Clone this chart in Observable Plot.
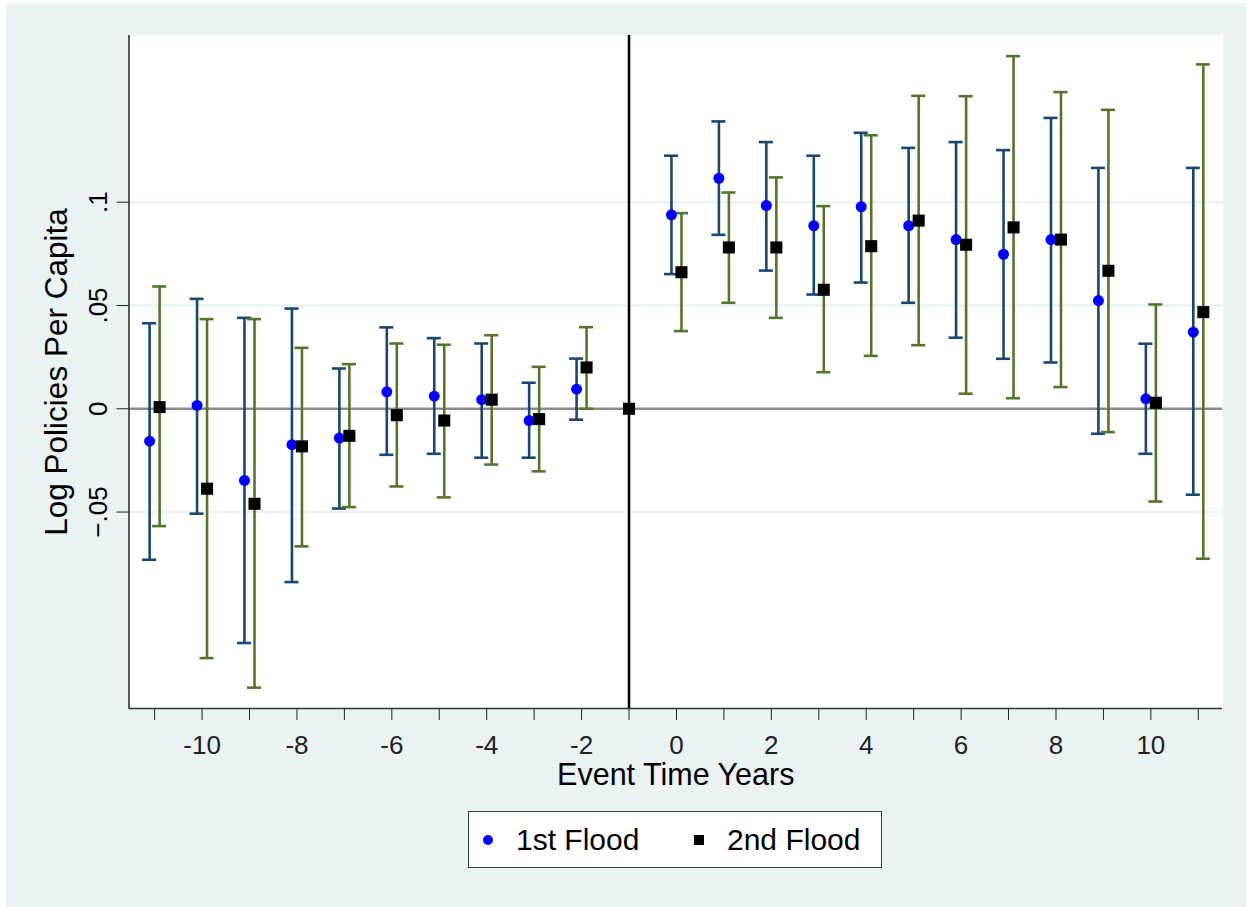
<!DOCTYPE html>
<html>
<head>
<meta charset="utf-8">
<script src="https://cdn.jsdelivr.net/npm/d3@7"></script>
<script src="https://cdn.jsdelivr.net/npm/@observablehq/plot@0.6"></script>
<style>
html, body { margin: 0; padding: 0; background: #ffffff; }
#page { position: relative; width: 1252px; height: 907px; overflow: hidden; font-family: "Liberation Sans", Arial, sans-serif; }
#bg { position: absolute; left: 6px; top: 3px; width: 1240px; height: 904px; background: #eaf2f3; }
#chart { position: absolute; left: 0; top: 0; }
#legend { position: absolute; left: 468px; top: 811px; width: 412px; height: 55px; border: 1px solid #3a3a3a; background: #ffffff; }
#legend .sym { position: absolute; top: 23px; width: 10px; height: 10px; }
#legend .lab { position: absolute; top: 0; line-height: 55px; font-size: 30px; color: #000; white-space: nowrap; }
</style>
</head>
<body>
<div id="page">
  <div id="bg"></div>
  <div id="chart"></div>
  <div id="legend"></div>
</div>
<script>
// ---- data ----
const years = [-11, -10, -9, -8, -7, -6, -5, -4, -3, -2, 0, 1, 2, 3, 4, 5, 6, 7, 8, 9, 10, 11];
const refYear = -1;
const refValue = 0;

const firstEst = [-0.0157, 0.0016, -0.0347, -0.0174, -0.0142, 0.0082, 0.0061, 0.0044, -0.0057, 0.0095,
  0.0939, 0.1116, 0.0984, 0.0886, 0.0978, 0.0886, 0.0819, 0.0748, 0.0819, 0.0524, 0.0048, 0.0371];
const firstHi = [0.0414, 0.0532, 0.0440, 0.0485, 0.0195, 0.0394, 0.0342, 0.0316, 0.0126, 0.0243,
  0.1225, 0.1391, 0.1291, 0.1225, 0.1336, 0.1263, 0.1291, 0.1252, 0.1408, 0.1166, 0.0315, 0.1166];
const firstLo = [-0.0731, -0.0508, -0.1134, -0.0839, -0.0483, -0.0223, -0.0218, -0.0237, -0.0237, -0.0053,
  0.0652, 0.0842, 0.0669, 0.0553, 0.0611, 0.0513, 0.0344, 0.0242, 0.0224, -0.0121, -0.0218, -0.0416];

const secondEst = [0.0008, -0.0387, -0.0460, -0.0182, -0.0131, -0.0031, -0.0057, 0.0044, -0.0050, 0.0200,
  0.0661, 0.0781, 0.0781, 0.0576, 0.0787, 0.0911, 0.0794, 0.0878, 0.0819, 0.0668, 0.0029, 0.0468];
const secondHi = [0.0592, 0.0434, 0.0434, 0.0295, 0.0216, 0.0316, 0.0310, 0.0356, 0.0203, 0.0395,
  0.0947, 0.1047, 0.1120, 0.0981, 0.1324, 0.1515, 0.1513, 0.1707, 0.1533, 0.1447, 0.0505, 0.1667];
const secondLo = [-0.0568, -0.1207, -0.1350, -0.0666, -0.0476, -0.0376, -0.0429, -0.0270, -0.0303, 0.0000,
  0.0376, 0.0513, 0.0440, 0.0177, 0.0256, 0.0308, 0.0073, 0.0051, 0.0105, -0.0113, -0.0449, -0.0726];

const seriesNames = ["1st Flood", "2nd Flood"];
const xTicks = d3.range(-11, 12);
const yTicks = [-0.05, 0, 0.05, 0.1];
const yGrid = [-0.05, 0.05, 0.1];
const xTitle = "Event Time Years";
const yTitle = "Log Policies Per Capita";

// ---- styling ----
const blueCI = "#1a476f";
const greenCI = "#55752f";
const blueDot = "#0000ff";
const blackSq = "#000000";
const bgColor = "#eaf2f3";
const capHalf = 0.148;
const xDomain = [-11.54, 11.51];
const yDomain = [-0.1451, 0.1807];

const first = years.map((t, i) => ({t, est: firstEst[i], lo: firstLo[i], hi: firstHi[i]}));
const second = years.map((t, i) => ({t, est: secondEst[i], lo: secondLo[i], hi: secondHi[i]}));
const ref = [{t: refYear, est: refValue}];

const yFmt = d => d === 0 ? "0" : d3.format(".2~f")(d).replace("0.", ".");

const ciMarks = (data, color, dx) => [
  Plot.ruleX(data, {x: "t", y1: "lo", y2: "hi", dx, stroke: color, strokeWidth: 2.6}),
  Plot.ruleY(data, {y: "lo", x1: d => d.t - capHalf, x2: d => d.t + capHalf, dx, stroke: color, strokeWidth: 2.6}),
  Plot.ruleY(data, {y: "hi", x1: d => d.t - capHalf, x2: d => d.t + capHalf, dx, stroke: color, strokeWidth: 2.6})
];

const chart = Plot.plot({
  width: 1252,
  height: 907,
  marginLeft: 128.5,
  marginRight: 30,
  marginTop: 35,
  marginBottom: 199,
  style: {background: "transparent", fontFamily: "'Liberation Sans', Arial, sans-serif", overflow: "visible"},
  x: {domain: xDomain, axis: null},
  y: {domain: yDomain, axis: null},
  marks: [
    Plot.frame({fill: "white", stroke: null}),
    Plot.ruleY(yGrid, {stroke: bgColor, strokeWidth: 2.5}),
    Plot.ruleY([0], {stroke: "#8a8a8a", strokeWidth: 2.5}),
    Plot.ruleX([refYear], {stroke: "#000", strokeWidth: 2.5}),
    ...ciMarks(first, blueCI, -5),
    ...ciMarks(second, greenCI, 5),
    Plot.dot(first, {x: "t", y: "est", dx: -5, r: 5.5, fill: blueDot, stroke: null}),
    Plot.dot(second, {x: "t", y: "est", dx: 5, r: 6.8, symbol: "square", fill: blackSq, stroke: null}),
    Plot.dot(ref, {x: "t", y: "est", r: 6.8, symbol: "square", fill: blackSq, stroke: null}),
    // axis lines
    Plot.ruleX([xDomain[0]], {stroke: "#333", strokeWidth: 1.6}),
    Plot.ruleY([yDomain[0]], {stroke: "#333", strokeWidth: 1.6}),
    // x axis
    Plot.axisX(xTicks, {tickSize: 12, tickPadding: 15, fontSize: 26, color: "#222", label: null,
      tickFormat: d => d % 2 === 0 ? String(d) : ""}),
    Plot.text([xTitle], {frameAnchor: "bottom", dy: 67, fontSize: 30.5, lineAnchor: "middle", fill: "#000"}),
    // y axis
    Plot.axisY(yTicks, {tickSize: 12, tickFormat: () => "", color: "#222", label: null}),
    Plot.text(yTicks, {y: d => d, text: yFmt, frameAnchor: "left", dx: -30.5, rotate: -90,
      textAnchor: "middle", lineAnchor: "middle", fontSize: 26, fill: "#000"}),
    Plot.text([yTitle], {frameAnchor: "left", dx: -72, rotate: -90, textAnchor: "middle",
      lineAnchor: "middle", fontSize: 31.5, fill: "#000"})
  ]
});
document.getElementById("chart").appendChild(chart);

// ---- legend ----
const legend = document.getElementById("legend");
const legendItems = [
  {name: seriesNames[0], color: blueDot, round: true, symLeft: 14, textLeft: 47},
  {name: seriesNames[1], color: blackSq, round: false, symLeft: 225, textLeft: 258}
];
legendItems.forEach(it => {
  const s = document.createElement("div");
  s.className = "sym";
  s.style.left = it.symLeft + "px";
  s.style.background = it.color;
  if (it.round) s.style.borderRadius = "50%";
  legend.appendChild(s);
  const l = document.createElement("div");
  l.className = "lab";
  l.style.left = it.textLeft + "px";
  l.textContent = it.name;
  legend.appendChild(l);
});
</script>
</body>
</html>
